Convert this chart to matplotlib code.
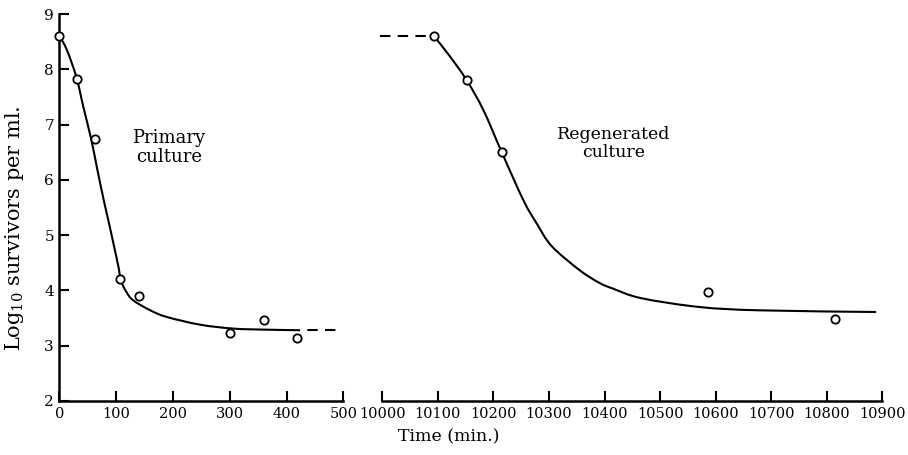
import matplotlib
matplotlib.use("Agg")
import matplotlib.pyplot as plt
from matplotlib.path import Path
from matplotlib.patches import PathPatch

# ---- data ----
primary_t = [0, 30, 63, 107, 140, 300, 360, 418]
primary_y = [8.60, 7.83, 6.73, 4.20, 3.90, 3.23, 3.46, 3.14]

primary_curve_t = [0, 13, 30, 42, 56, 66, 78, 86, 95, 104, 108, 118, 130, 160, 189, 248, 306, 365, 424]
primary_curve_y = [8.60, 8.35, 7.85, 7.32, 6.73, 6.22, 5.63, 5.27, 4.85, 4.42, 4.18, 3.97, 3.82, 3.64, 3.52, 3.38, 3.31, 3.29, 3.28]
primary_dash_t = [424, 487]
primary_dash_y = [3.28, 3.28]

regen_t = [10093, 10152, 10215, 10587, 10815]
regen_y = [8.60, 7.80, 6.50, 3.97, 3.49]

regen_curve_t = [10093, 10122, 10152, 10182, 10215, 10254, 10278, 10305, 10356, 10392, 10416, 10466, 10571, 10679, 10889]
regen_curve_y = [8.60, 8.23, 7.80, 7.26, 6.50, 5.63, 5.21, 4.80, 4.36, 4.13, 4.03, 3.86, 3.70, 3.64, 3.61]
regen_dash_t = [9996, 10093]
regen_dash_y = [8.60, 8.60]

left_xticks = [0, 100, 200, 300, 400, 500]
right_xticks = [10000, 10100, 10200, 10300, 10400, 10500, 10600, 10700, 10800, 10900]
yticks = [2, 3, 4, 5, 6, 7, 8, 9]

FONT = "DejaVu Serif"
plt.rcParams["font.family"] = FONT
plt.rcParams["mathtext.fontset"] = "dejavuserif"


def smooth_path(xs, ys):
    """Smooth curve through the read points (Catmull-Rom drawn as Bezier)."""
    pts = list(zip(xs, ys))
    verts = [pts[0]]
    codes = [Path.MOVETO]
    n = len(pts)
    for i in range(n - 1):
        p0 = pts[i - 1] if i > 0 else pts[i]
        p1 = pts[i]
        p2 = pts[i + 1]
        p3 = pts[i + 2] if i + 2 < n else pts[i + 1]
        c1 = (p1[0] + (p2[0] - p0[0]) / 6, p1[1] + (p2[1] - p0[1]) / 6)
        c2 = (p2[0] - (p3[0] - p1[0]) / 6, p2[1] - (p3[1] - p1[1]) / 6)
        verts += [c1, c2, p2]
        codes += [Path.CURVE4] * 3
    return Path(verts, codes)


W, H = 908, 455
fig = plt.figure(figsize=(W / 100, H / 100), dpi=100)

x0L, x1L = 59.5, 343.3
x0R, x1R = 382.3, 882.3
yT, yB = 14, 401
axL = fig.add_axes([x0L / W, 1 - yB / H, (x1L - x0L) / W, (yB - yT) / H])
axR = fig.add_axes([x0R / W, 1 - yB / H, (x1R - x0R) / W, (yB - yT) / H], sharey=axL)

lw_curve = 1.5
ms = 6.0
dash = (5, (5, 3.5))
for ax in (axL, axR):
    for s in ("top", "right"):
        ax.spines[s].set_visible(False)
    ax.spines["bottom"].set_linewidth(1.8)
    ax.spines["left"].set_linewidth(1.8)
    ax.tick_params(direction="in", length=7, width=1.5, labelsize=10.5, pad=4)
    ax.set_facecolor("none")

axL.tick_params(axis="y", labelsize=11)
axR.spines["left"].set_visible(False)
axR.tick_params(axis="y", left=False, labelleft=False)

# left panel
axL.add_patch(PathPatch(smooth_path(primary_curve_t, primary_curve_y), fill=False,
                        edgecolor="black", lw=lw_curve, clip_on=False))
axL.plot(primary_dash_t, primary_dash_y, color="black", lw=lw_curve, ls=dash, clip_on=False)
axL.plot(primary_t, primary_y, "o", mfc="white", mec="black", mew=1.3, ms=ms, clip_on=False, zorder=5)
axL.set_xlim(0, 500)
axL.set_ylim(2, 9)
axL.set_xticks(left_xticks)
axL.set_yticks(yticks)
axL.text(193, 6.59, "Primary\nculture", ha="center", va="center", fontsize=13,
         multialignment="center", linespacing=1.1)
axL.set_ylabel(r"Log$_{10}$ survivors per ml.", fontsize=15, va="center", ha="center")
axL.yaxis.set_label_coords(-0.16, 0.447)

# right panel
axR.add_patch(PathPatch(smooth_path(regen_curve_t, regen_curve_y), fill=False,
                        edgecolor="black", lw=lw_curve, clip_on=False))
axR.plot(regen_dash_t, regen_dash_y, color="black", lw=lw_curve, ls=(0, (5, 3.5)), clip_on=False)
axR.plot(regen_t, regen_y, "o", mfc="white", mec="black", mew=1.3, ms=ms, clip_on=False, zorder=5)
axR.set_xlim(10000, 10900)
axR.set_xticks(right_xticks)
axR.text(10417, 6.66, "Regenerated\nculture", ha="center", va="center", fontsize=12.5,
         multialignment="center", linespacing=1.1)

fig.text(449 / W, 1 - 437 / H, "Time (min.)", ha="center", va="center", fontsize=12.5)

fig.savefig("out.png", dpi=100)
